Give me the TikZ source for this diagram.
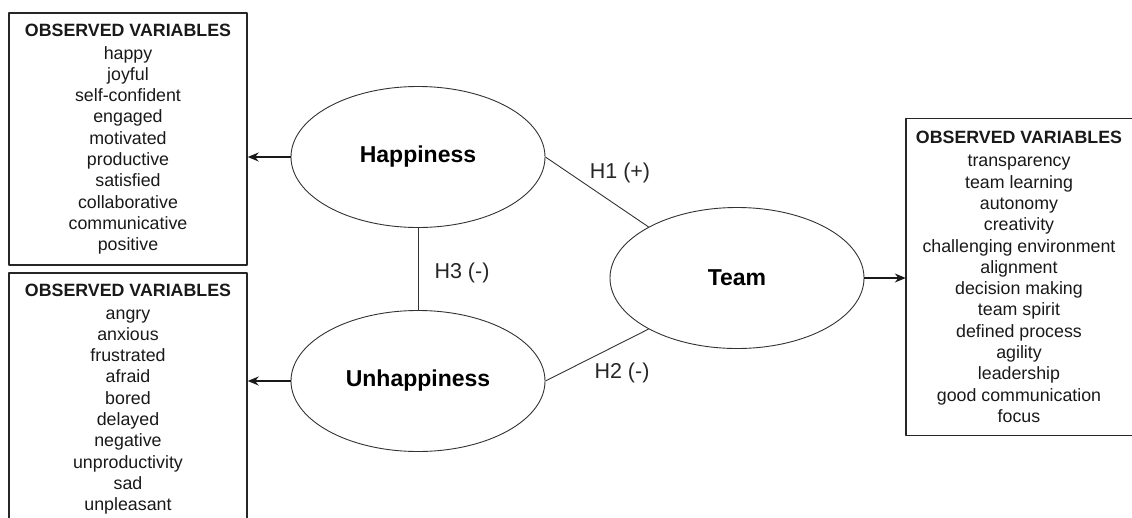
\documentclass[tikz,border=0pt]{standalone}
\usepackage{fontspec}
\setmainfont{Liberation Sans}
\usetikzlibrary{arrows.meta,shapes.geometric}

\begin{document}
\begin{tikzpicture}[x=1pt,y=-1pt,>=Stealth,line join=round,
  obsbox/.style={draw=black!85,line width=1.4pt,align=center,inner sep=0pt,text=black!90,font=\fontsize{17.8}{21.3}\selectfont},
  latent/.style={ellipse,draw=black!80,line width=0.9pt,minimum width=254pt,minimum height=141pt,inner sep=0pt,font=\fontsize{23}{27}\selectfont\bfseries},
  hyp/.style={font=\fontsize{21.5}{25}\selectfont,text=black!85},
  link/.style={draw=black!80,line width=0.9pt},
  load/.style={-{Stealth[length=11pt,width=9pt]},line width=1.5pt,draw=black!90}]
  \clip (0,0) rectangle (1132,517);
  % observed variables
  \node[obsbox,minimum width=238pt,minimum height=252pt] (obsH) at (128,139) {\textbf{OBSERVED VARIABLES}\\[1.7pt]
    happy\\ joyful\\ self-confident\\ engaged\\ motivated\\ productive\\ satisfied\\ collaborative\\ communicative\\ positive};
  \node[obsbox,minimum width=238pt,minimum height=252pt] (obsU) at (128,399) {\textbf{OBSERVED VARIABLES}\\[1.7pt]
    angry\\ anxious\\ frustrated\\ afraid\\ bored\\ delayed\\ negative\\ unproductivity\\ sad\\ unpleasant};
  \node[obsbox,draw=none,minimum width=225pt,minimum height=316pt] (obsT) at (1019,277) {\textbf{OBSERVED VARIABLES}\\[1.7pt]
    transparency\\ team learning\\ autonomy\\ creativity\\ challenging environment\\ alignment\\ decision making\\ team spirit\\ defined process\\ agility\\ leadership\\ good communication\\ focus};
  \draw[draw=black!85,line width=1.4pt] ([xshift=20pt]obsT.north east) -- (obsT.north west) -- (obsT.south west) -- ([xshift=20pt]obsT.south east);
  % latent constructs
  \node[latent] (hap) at (418,157) {Happiness};
  \node[latent] (unhap) at (418,381) {Unhappiness};
  \node[latent] (team) at (737,278) {Team};
  % hypotheses
  \draw[link] (hap.east) -- (team.150);
  \draw[link] (unhap.east) -- (team.210);
  \draw[link] (hap.south) -- (unhap.north);
  \node[hyp] (h1) at (620,173) {H1 (+)};
  \node[hyp] (h2) at (622,373) {H2 (-)};
  \node[hyp] (h3) at (462,273) {H3 (-)};
  % loadings
  \draw[load] (hap.west) -- (hap.west -| obsH.east);
  \draw[load] (unhap.west) -- (unhap.west -| obsU.east);
  \draw[load] (team.east) -- (team.east -| obsT.west);
\end{tikzpicture}
\end{document}
